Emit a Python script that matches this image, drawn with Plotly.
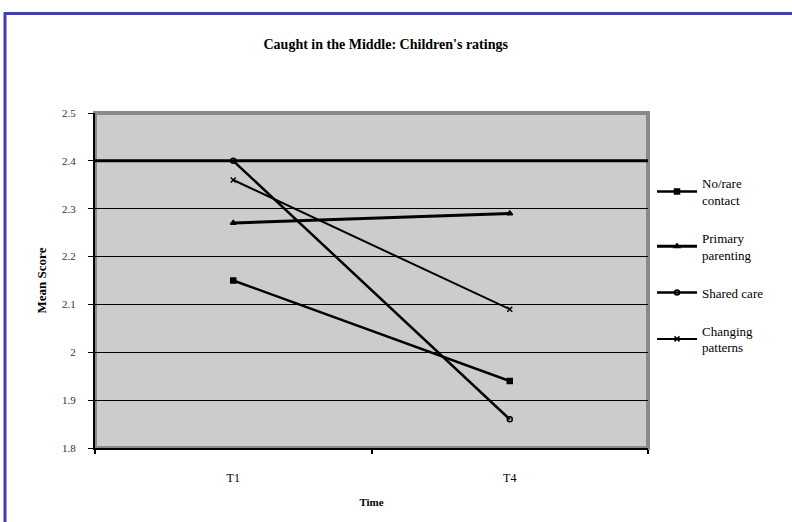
import plotly.graph_objects as go

# ---- data ----
times = ["T1", "T4"]
series_names = ["No/rare<br>contact", "Primary<br>parenting", "Shared care", "Changing<br>patterns"]
no_rare = [2.15, 1.94]
primary = [2.27, 2.29]
shared = [2.40, 1.86]
changing = [2.36, 2.09]
y_ticks = [1.8, 1.9, 2.0, 2.1, 2.2, 2.3, 2.4, 2.5]

values = [no_rare, primary, shared, changing]
symbols = ["square", "triangle-up", "circle-open", "x-thin"]
widths = [2.5, 3, 2.5, 2]

W, H = 792, 522
L, R, T, B = 95, 144, 113, 74
pw, ph = W - L - R, H - T - B

def px(xp):
    return (xp - L) / pw

def py(yp):
    return (H - B - yp) / ph

SERIF = "Liberation Serif, Times New Roman, serif"

fig = go.Figure()
for i, (name, vals, sym, w) in enumerate(zip(series_names, values, symbols, widths)):
    fig.add_trace(go.Scatter(
        x=times, y=vals, name=name, mode="lines+markers", legendgroup=f"g{i}",
        line=dict(color="black", width=w),
        marker=dict(symbol=sym, size=5, color="black",
                    line=dict(color="black", width=1.5)),
    ))

shapes = [
    # outer blue frame
    dict(type="rect", xref="paper", yref="paper",
         x0=px(5), x1=px(820), y0=py(540), y1=py(13.5),
         line=dict(color="#3f3fae", width=3), fillcolor="rgba(0,0,0,0)", layer="below"),
    # plot area shadow border
    dict(type="rect", xref="paper", yref="paper",
         x0=0, x1=1, y0=0, y1=1,
         line=dict(color="#8a8a8a", width=4), fillcolor="rgba(0,0,0,0)", layer="below"),
    # emphasised 2.4 gridline
    dict(type="line", xref="paper", yref="y", x0=0, x1=1,
         y0=y_ticks[6], y1=y_ticks[6], line=dict(color="black", width=3), layer="below"),
]

fig.update_layout(
    width=W, height=H,
    margin=dict(l=L, r=R, t=T, b=B),
    paper_bgcolor="white",
    plot_bgcolor="#cccccc",
    font=dict(family=SERIF, color="black", size=12),
    title=dict(text="<b>Caught in the Middle: Children's ratings</b>",
               x=0.487, xref="container", y=1 - 44 / H, yref="container",
               xanchor="center", yanchor="middle",
               font=dict(family=SERIF, size=14, color="black")),
    showlegend=True,
    legend=dict(x=px(652), y=py(168), xanchor="left", yanchor="top",
                font=dict(family=SERIF, size=13, color="black"),
                bgcolor="rgba(0,0,0,0)", tracegroupgap=18, itemwidth=40),
    shapes=shapes,
)

fig.update_xaxes(
    type="category", range=[-0.5, 1.5],
    showgrid=False, showline=True, linecolor="black", linewidth=2,
    ticks="outside", tickson="boundaries", ticklen=4, tickcolor="black", tickwidth=2,
    ticklabelstandoff=18,
    tickfont=dict(family=SERIF, size=12, color="black"),
    title=dict(text="<b>Time</b>", font=dict(family=SERIF, size=11, color="black"), standoff=14),
    zeroline=False,
)
fig.update_yaxes(
    range=[1.8, 2.5], tickvals=y_ticks,
    showgrid=True, gridcolor="black", gridwidth=1,
    showline=True, linecolor="black", linewidth=2,
    ticks="outside", ticklen=5, tickcolor="black",
    ticklabelstandoff=10,
    tickfont=dict(family=SERIF, size=11, color="#333333"),
    title=dict(text="<b>Mean Score</b>", font=dict(family=SERIF, size=13, color="black"), standoff=12),
    zeroline=False,
)

fig.write_html("out.html")
